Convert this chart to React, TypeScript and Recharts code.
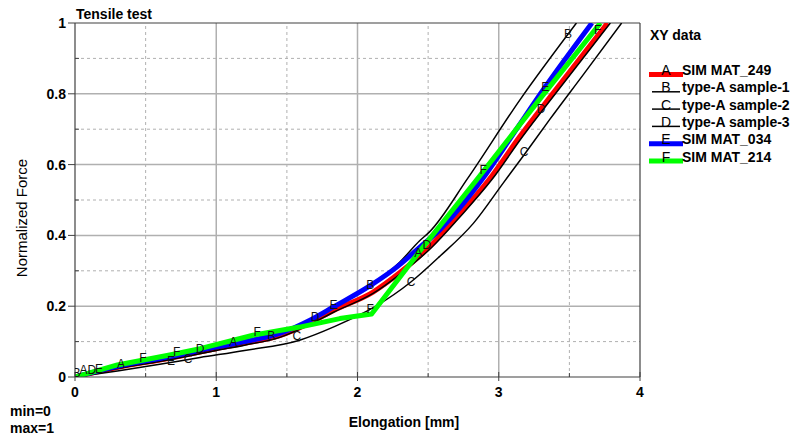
import React from 'react';
import { ComposedChart, Line, Scatter, XAxis, YAxis, ReferenceLine } from 'recharts';

const FONT = '"Liberation Sans", Arial, Helvetica, sans-serif';

// ---- series meta ----
const seriesNames = ['SIM MAT_249', 'type-A sample-1', 'type-A sample-2', 'type-A sample-3', 'SIM MAT_034', 'SIM MAT_214'];
const seriesLetters = ['A', 'B', 'C', 'D', 'E', 'F'];
const seriesColors = ['#ff0000', '#000000', '#000000', '#000000', '#0000ff', '#00ff00'];
const seriesWidths = [5, 1.5, 1.5, 1.5, 5, 5];
const seriesCurve = ['monotone', 'monotone', 'monotone', 'monotone', 'monotone', 'linear'];

// ---- series values (Elongation [mm], Normalized Force) ----
const xA = [0, 0.3, 0.67, 1.0, 1.2, 1.45, 1.66, 1.83, 2.11, 2.3, 2.51, 2.7, 2.93, 3.15, 3.4, 3.77];
const yA = [0, 0.027, 0.053, 0.08, 0.095, 0.117, 0.152, 0.188, 0.24, 0.295, 0.368, 0.45, 0.557, 0.68, 0.81, 1.0];

const xB = [0, 0.3, 0.67, 1.0, 1.2, 1.39, 1.66, 1.83, 2.09, 2.3, 2.44, 2.51, 2.78, 3.15, 3.55];
const yB = [0, 0.028, 0.053, 0.08, 0.095, 0.117, 0.162, 0.2, 0.258, 0.325, 0.385, 0.41, 0.561, 0.783, 1.0];

const xC = [0, 0.3, 0.6, 0.885, 1.2, 1.59, 1.84, 2.13, 2.38, 2.58, 2.82, 3.03, 3.18, 3.36, 3.6, 3.87];
const yC = [0, 0.017, 0.036, 0.055, 0.075, 0.104, 0.143, 0.2, 0.269, 0.34, 0.434, 0.547, 0.628, 0.727, 0.855, 1.0];

const xD = [0, 0.3, 0.67, 1.0, 1.2, 1.45, 1.66, 1.83, 2.11, 2.3, 2.53, 2.72, 2.95, 3.17, 3.42, 3.79];
const yD = [0, 0.024, 0.049, 0.075, 0.09, 0.112, 0.148, 0.183, 0.236, 0.29, 0.368, 0.45, 0.557, 0.68, 0.81, 1.0];

const xE = [0, 0.3, 0.67, 1.0, 1.2, 1.45, 1.66, 1.83, 2.09, 2.28, 2.44, 2.58, 2.88, 3.1, 3.33, 3.66];
const yE = [0, 0.03, 0.058, 0.085, 0.1, 0.123, 0.16, 0.198, 0.258, 0.311, 0.366, 0.415, 0.557, 0.685, 0.82, 1.0];

const xF = [0, 0.3, 0.67, 0.885, 1.26, 1.59, 1.875, 2.1, 2.44, 2.84, 3.3, 3.72];
const yF = [0, 0.034, 0.062, 0.08, 0.118, 0.141, 0.165, 0.178, 0.355, 0.555, 0.79, 1.0];

// ---- curve letter label positions ----
const lblXA = [0.06, 0.325, 1.12, 2.43];
const lblYA = [0.02, 0.038, 0.099, 0.35];
const lblXB = [0.01, 1.39, 2.09, 3.49];
const lblYB = [0.012, 0.118, 0.26, 0.97];
const lblXC = [0.8, 1.57, 2.38, 3.18];
const lblYC = [0.052, 0.118, 0.27, 0.636];
const lblXD = [0.12, 0.885, 1.70, 2.49, 3.30];
const lblYD = [0.022, 0.081, 0.17, 0.375, 0.757];
const lblXE = [0.17, 0.68, 1.83, 3.33];
const lblYE = [0.024, 0.046, 0.203, 0.82];
const lblXF = [0.48, 0.72, 1.29, 2.09, 2.89, 3.70];
const lblYF = [0.055, 0.072, 0.128, 0.194, 0.585, 0.98];

// ---- axes ----
const xTicks = [0, 0.5, 1, 1.5, 2, 2.5, 3, 3.5, 4];
const xMajor = [1, 2, 3];
const xMinor = [0.5, 1.5, 2.5, 3.5];
const yTicks = [0, 0.1, 0.2, 0.3, 0.4, 0.5, 0.6, 0.7, 0.8, 0.9, 1];
const yMajor = [0.2, 0.4, 0.6, 0.8];
const yMinor = [0.1, 0.3, 0.5, 0.7, 0.9];
const yRightTicks = [0, 0.2, 0.4, 0.6, 0.8, 1];

const xs = [xA, xB, xC, xD, xE, xF];
const ys = [yA, yB, yC, yD, yE, yF];
const lxs = [lblXA, lblXB, lblXC, lblXD, lblXE, lblXF];
const lys = [lblYA, lblYB, lblYC, lblYD, lblYE, lblYF];

const zip = (a: number[], b: number[]) => a.map((v, i) => ({ x: v, y: b[i] }));
const seriesData = xs.map((xv, i) => zip(xv, ys[i]));
const labelData = lxs.map((xv, i) => zip(xv, lys[i]));

const AXIS = '#404040';
const GRID = '#b0b0b0';

const isMajor = (v: number) => Math.round(v * 10) % 2 === 0;

const YLeftTick = (props: any) => {
  const { x, y, payload } = props;
  const v = payload.value as number;
  const major = isMajor(v);
  return (
    <g>
      {major ? (
        <line x1={x - 7} x2={x} y1={y} y2={y} stroke={AXIS} strokeWidth={1} />
      ) : (
        <line x1={x} x2={x + 4} y1={y} y2={y} stroke={AXIS} strokeWidth={1} />
      )}
      {major && (
        <text x={x - 9} y={y} dy="0.36em" textAnchor="end" fontFamily={FONT} fontSize={14} fontWeight="bold" fill="#000">
          {String(v)}
        </text>
      )}
    </g>
  );
};

const YRightTick = (props: any) => {
  const { x, y, payload } = props;
  const v = payload.value as number;
  if (v === 0 || v === 1) return <g />;
  return <line x1={x - 5} x2={x} y1={y} y2={y} stroke={AXIS} strokeWidth={1} />;
};

const XTick = (props: any) => {
  const { x, y, payload } = props;
  const v = payload.value as number;
  const major = Number.isInteger(v);
  return (
    <g>
      {major ? (
        <line x1={x} x2={x} y1={y - 5} y2={y + 4} stroke={AXIS} strokeWidth={1} />
      ) : (
        <line x1={x} x2={x} y1={y - 4} y2={y} stroke={AXIS} strokeWidth={1} />
      )}
      {major && (
        <text x={x} y={y + 20} textAnchor="middle" fontFamily={FONT} fontSize={14} fontWeight="bold" fill="#000">
          {String(v)}
        </text>
      )}
    </g>
  );
};

const letterShape = (letter: string) => (p: any) => (
  <text x={p.cx} y={p.cy} dy="0.36em" textAnchor="middle" fontFamily={FONT} fontSize={12} fill="#111">
    {letter}
  </text>
);

const Overlay = () => {
  const rowBase = 75;
  const rowStep = 17.3;
  return (
    <svg width={793} height={437} style={{ position: 'absolute', left: 0, top: 0, pointerEvents: 'none' }}>
      <text x={76} y={19} fontFamily={FONT} fontSize={14} fontWeight="bold" fill="#000">Tensile test</text>
      <text
        x={22}
        y={218}
        dy="0.36em"
        textAnchor="middle"
        transform="rotate(-90 22 218)"
        fontFamily={FONT}
        fontSize={15}
        fill="#000"
      >
        Normalized Force
      </text>
      <text x={404} y={427} textAnchor="middle" fontFamily={FONT} fontSize={14} fontWeight="bold" fill="#000">
        Elongation [mm]
      </text>
      <text x={10} y={416} fontFamily={FONT} fontSize={14} fontWeight="bold" fill="#000">min=0</text>
      <text x={10} y={433} fontFamily={FONT} fontSize={14} fontWeight="bold" fill="#000">max=1</text>
      <text x={650} y={40} fontFamily={FONT} fontSize={14} fontWeight="bold" fill="#000">XY data</text>
      {seriesNames.map((name, i) => {
        const base = rowBase + rowStep * i;
        const thick = seriesWidths[i] > 2;
        return (
          <g key={name}>
            <line
              x1={thick ? 649 : 652}
              x2={thick ? 683 : 680}
              y1={base - 0.5}
              y2={base - 0.5}
              stroke={seriesColors[i]}
              strokeWidth={seriesWidths[i]}
            />
            <text x={666} y={base} textAnchor="middle" fontFamily={FONT} fontSize={14} fill="#000">
              {seriesLetters[i]}
            </text>
            <text x={682} y={base} fontFamily={FONT} fontSize={14} fontWeight="bold" fill="#000">
              {name}
            </text>
          </g>
        );
      })}
    </svg>
  );
};

export default function App() {
  return (
    <div style={{ position: 'absolute', left: 0, top: 0, width: 793, height: 437, background: '#fff' }}>
      <ComposedChart width={793} height={437} margin={{ top: 23, right: 143, bottom: 30, left: 0 }}>
        <XAxis
          type="number"
          dataKey="x"
          domain={[0, 4]}
          ticks={xTicks}
          interval={0}
          height={30}
          tickSize={0}
          tickMargin={0}
          tickLine={false}
          axisLine={{ stroke: AXIS, strokeWidth: 1.2 }}
          tick={<XTick />}
          allowDataOverflow
        />
        <YAxis
          type="number"
          domain={[0, 1]}
          ticks={yTicks}
          interval={0}
          width={75}
          tickSize={0}
          tickMargin={0}
          tickLine={false}
          axisLine={{ stroke: AXIS, strokeWidth: 1.2 }}
          tick={<YLeftTick />}
          allowDataOverflow
        />
        <YAxis
          yAxisId="r"
          orientation="right"
          type="number"
          domain={[0, 1]}
          ticks={yRightTicks}
          interval={0}
          width={10}
          tickSize={0}
          tickMargin={0}
          tickLine={false}
          axisLine={{ stroke: AXIS, strokeWidth: 1.2 }}
          tick={<YRightTick />}
        />
        {xMinor.map((v) => (
          <ReferenceLine key={'xm' + v} x={v} stroke={GRID} strokeDasharray="3 3" strokeWidth={1} />
        ))}
        {yMinor.map((v) => (
          <ReferenceLine key={'ym' + v} y={v} stroke={GRID} strokeDasharray="3 3" strokeWidth={1} />
        ))}
        {xMajor.map((v) => (
          <ReferenceLine key={'xM' + v} x={v} stroke={GRID} strokeWidth={1.5} />
        ))}
        {yMajor.map((v) => (
          <ReferenceLine key={'yM' + v} y={v} stroke={GRID} strokeWidth={1.5} />
        ))}
        <ReferenceLine y={1} stroke={AXIS} strokeWidth={1.2} />
        {seriesData.map((d, i) => (
          <Line
            key={seriesNames[i]}
            data={d}
            dataKey="y"
            type={seriesCurve[i] as any}
            stroke={seriesColors[i]}
            strokeWidth={seriesWidths[i]}
            dot={false}
            activeDot={false}
            isAnimationActive={false}
            strokeLinejoin="round"
          />
        ))}
        {labelData.map((d, i) => (
          <Scatter
            key={'lbl' + i}
            data={d}
            dataKey="y"
            shape={letterShape(seriesLetters[i])}
            isAnimationActive={false}
          />
        ))}
      </ComposedChart>
      <Overlay />
    </div>
  );
}
